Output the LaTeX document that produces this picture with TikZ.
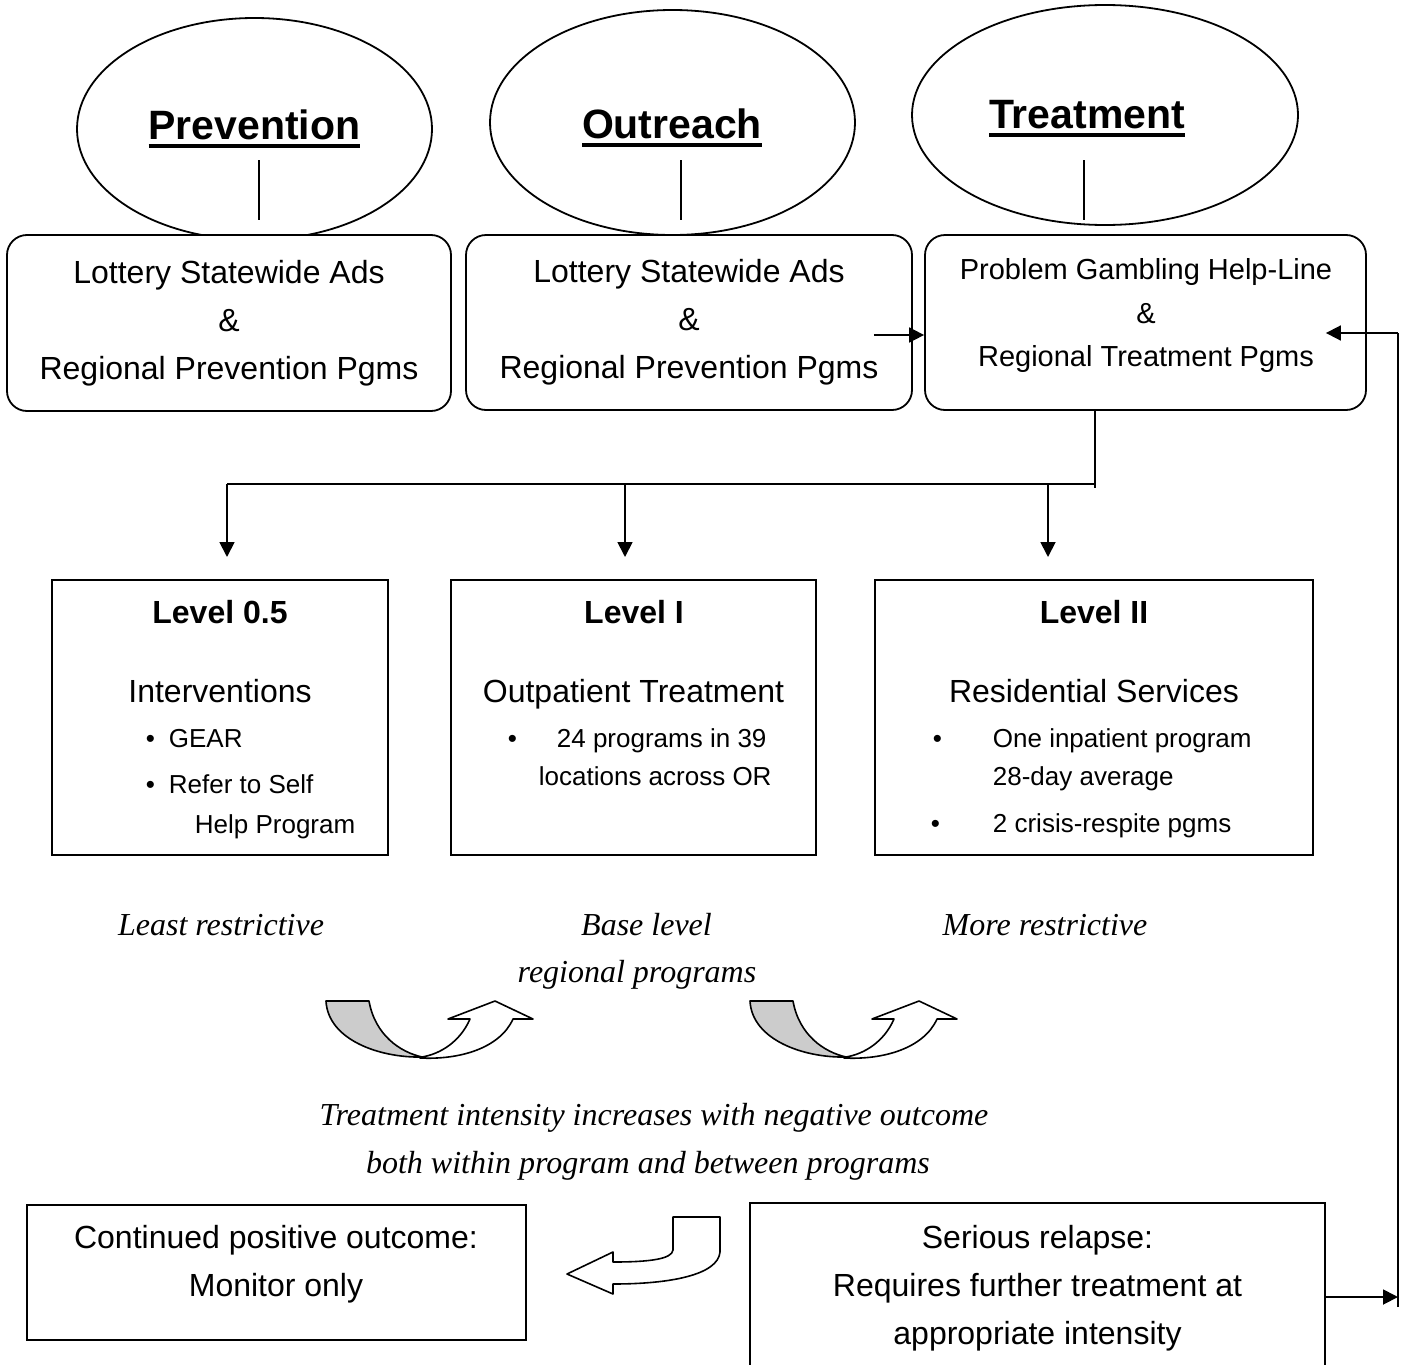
\documentclass[tikz,border=0pt]{standalone}
\usepackage{fontspec}
\setmainfont{Liberation Sans}
\newfontfamily\timesfont{Liberation Serif}
\usetikzlibrary{calc, arrows.meta, shapes.geometric}

\newcommand\thickul[1]{\setbox0\hbox{#1}\rlap{\rule[-4.5pt]{\wd0}{2pt}}\box0}

\begin{document}
\begin{tikzpicture}[x=0.5pt, y=-0.5pt, line width=0.9pt,
  oval/.style={draw, ellipse, inner sep=0pt},
  title/.style={anchor=base, font=\fontsize{20.5}{24}\selectfont\bfseries},
  roundbox/.style={draw, fill=white, rounded corners=10pt, inner sep=0pt},
  sqbox/.style={draw, inner sep=0pt},
  txt/.style={align=center, font=\fontsize{16}{24}\selectfont},
  helptxt/.style={align=center, font=\fontsize{14.5}{21.75}\selectfont},
  bold/.style={anchor=base, font=\fontsize{16}{24}\selectfont\bfseries},
  head/.style={anchor=base, font=\fontsize{16}{24}\selectfont},
  item/.style={anchor=base west, inner sep=0pt, font=\fontsize{13}{16}\selectfont},
  note/.style={anchor=base, font=\fontsize{16}{24}\selectfont\timesfont\itshape},
  arr/.style={-{Triangle[length=7.5pt, width=7.5pt]}},
  swoop/.style={draw, line width=0.8pt, line join=round}]

\useasboundingbox (0,0) rectangle (1408,1365);

% three ovals
\node[oval, minimum width=177.5pt, minimum height=111pt] (prev) at (254.5,129) {};
\node[oval, minimum width=182.5pt, minimum height=112.5pt] (outr) at (672.5,122.5) {};
\node[oval, minimum width=193pt, minimum height=110pt] (treat) at (1105,115) {};
\node[title] (prevt) at (254.5,139) {\thickul{Prevention}};
\node[title] (outrt) at (672,138) {\thickul{Outreach}};
\node[title] (treatt) at (1087,128) {\thickul{Treatment}};
\draw (prev.center) ++(4.5,31) -- ++(0,60);
\draw (outr.center) ++(8.5,37.5) -- ++(0,60);
\draw (treat.center) ++(-21,45) -- ++(0,60);

% rounded boxes
\node[roundbox, txt, minimum width=222pt, minimum height=88pt] (prevbox) at (229,323)
  {Lottery Statewide Ads\\\&\\Regional Prevention Pgms};
\node[roundbox, txt, minimum width=223pt, minimum height=87.5pt] (outrbox) at (689,322.5)
  {Lottery Statewide Ads\\\&\\Regional Prevention Pgms};
\node[roundbox, minimum width=220.5pt, minimum height=87.5pt] (treatbox) at (1145.5,322.5) {};
\node[helptxt] (treattxt) at (1146,315.5) {Problem Gambling Help-Line\\\&\\Regional Treatment Pgms};

\coordinate (src) at ([shift={(-39,12.5)}]outrbox.east);
\draw[arr] (src) -- (src -| treatbox.west);

% fork to the levels
\coordinate (fork) at (1095,484);
\coordinate (dropA) at (227,557);
\coordinate (dropB) at (625,557);
\coordinate (dropC) at (1048,557);
\draw ([xshift=-25.25pt]treatbox.south) -- ++(0,77);
\draw (fork) -- (fork -| dropA);
\foreach \d in {dropA, dropB, dropC}
  \draw[arr] (fork -| \d) -- (\d);

% level boxes
\node[sqbox, minimum width=168pt, minimum height=137.5pt] (lvlA) at (220,717.5) {};
\node[sqbox, minimum width=182.5pt, minimum height=137.5pt] (lvlB) at (633.5,717.5) {};
\node[sqbox, minimum width=219pt, minimum height=137.5pt] (lvlC) at (1094,717.5) {};

\node[bold] (lvlAt) at (220,623) {Level 0.5};
\node[head] (lvlAh) at (220,702) {Interventions};
\node[item] (bulA1) at (145,747) {\textbullet};
\node[item] (itA1) at (168,747) {GEAR};
\node[item] (bulA2) at (145,793) {\textbullet};
\node[item] (itA2) at (168,793) {Refer to Self};
\node[item] (itA3) at (194,833) {Help Program};

\node[bold] (lvlBt) at (634,623) {Level I};
\node[head] (lvlBh) at (633.5,702) {Outpatient Treatment};
\node[item] (bulB1) at (507,747) {\textbullet};
\node[item] (itB1) at (556,747) {24 programs in 39};
\node[item] (itB2) at (538,785) {locations across OR};

\node[bold] (lvlCt) at (1094,623) {Level II};
\node[head] (lvlCh) at (1094,702) {Residential Services};
\node[item] (bulC1) at (932,747) {\textbullet};
\node[item] (itC1) at (992,747) {One inpatient program};
\node[item] (itC2) at (992,785) {28-day average};
\node[item] (bulC2) at (930,832) {\textbullet};
\node[item] (itC3) at (992,832) {2 crisis-respite pgms};

% notes
\node[note] (least) at (221,935) {Least restrictive};
\node[note] (baselvl) at (646.5,935) {Base level};
\node[note] (regional) at (637,982) {regional programs};
\node[note] (more) at (1045,935) {More restrictive};
\node[note] (intens) at (654,1125) {Treatment intensity increases with negative outcome};
\node[note] (within) at (648,1173) {both within program and between programs};

% u-turn arrows
\foreach \dx in {0,424} {
  \begin{scope}[shift={(\dx,0)}]
    \draw[swoop, fill=black!20] (326,1001) -- (369,1001)
      .. controls (375,1035) and (400,1052) .. (422,1057)
      .. controls (380,1058) and (328,1040) .. (326,1001) -- cycle;
    \draw[swoop, fill=white] (420,1058) .. controls (460,1060) and (500,1048) .. (513,1019)
      -- (533,1019) -- (495,1001) -- (448,1019) -- (470,1019)
      .. controls (460,1042) and (440,1054) .. (422,1057) -- cycle;
  \end{scope}
}
\draw[swoop, fill=white] (673,1217) -- (720,1217) -- (720,1252)
  .. controls (718,1275) and (670,1284) .. (613,1284)
  -- (613,1294) -- (567,1274) -- (613,1252) -- (613,1262)
  .. controls (650,1262) and (672,1259) .. (673,1250) -- cycle;

% outcome boxes
\node[sqbox, minimum width=249.5pt, minimum height=67.5pt] (monitor) at (276.5,1272.5) {};
\node[txt] (monitortxt) at (276,1264) {Continued positive outcome:\\Monitor only};
\node[sqbox, txt, minimum width=287.5pt, minimum height=85pt] (relapse) at (1037.5,1288)
  {Serious relapse:\\Requires further treatment at\\appropriate intensity};

% feedback rail
\coordinate (railtop) at (1398,333);
\coordinate (railbot) at (1398,1307);
\coordinate (out) at ([yshift=-4.5pt]relapse.east);
\coordinate (back) at ([xshift=-20.5pt]treatbox.east);
\draw[arr] (out) -- (out -| railbot);
\draw (railbot) -- (railtop);
\draw[arr] (railtop) -- (railtop -| back);
\end{tikzpicture}
\end{document}
